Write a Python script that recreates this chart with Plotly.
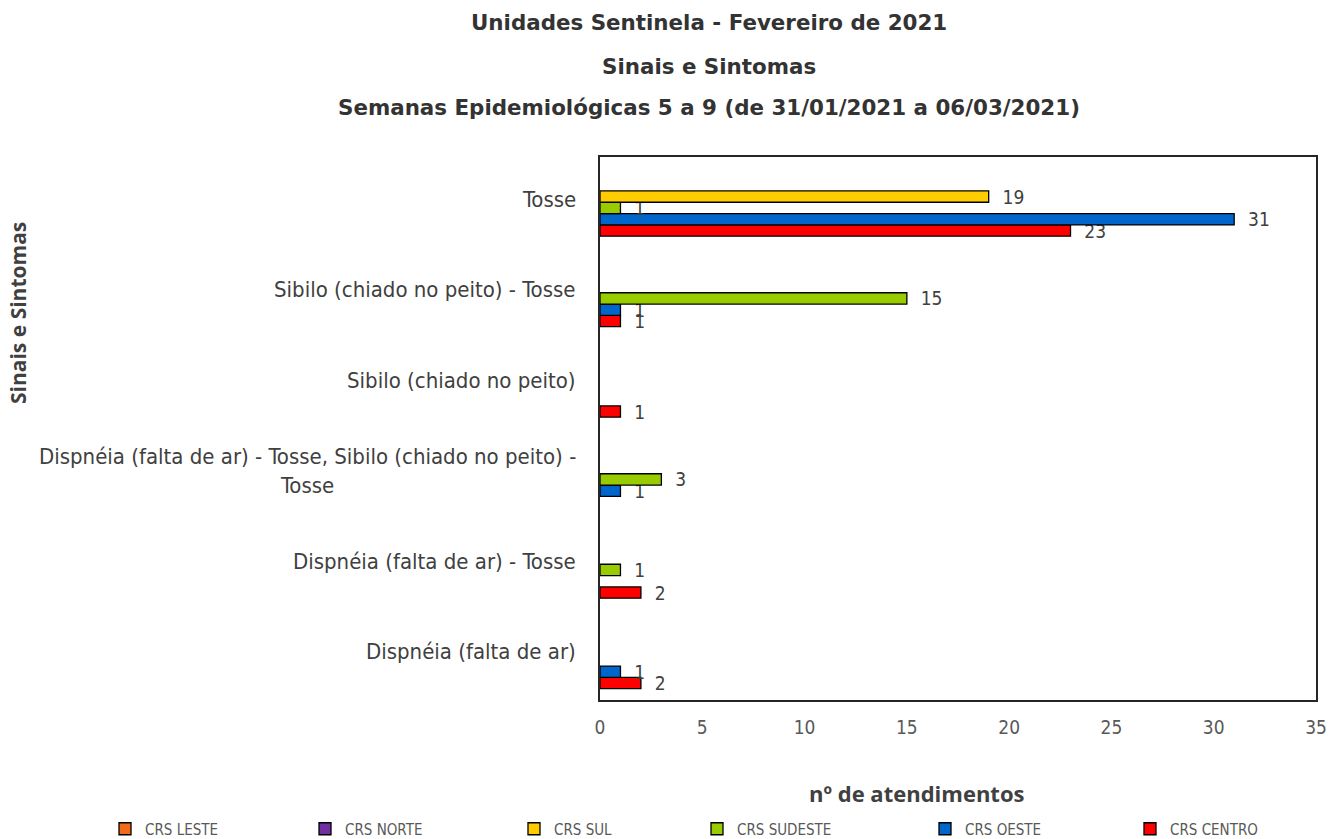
import plotly.graph_objects as go

categories = [
    "Dispnéia (falta de ar)",
    "Dispnéia (falta de ar) - Tosse",
    "Dispnéia (falta de ar) - Tosse, Sibilo (chiado no peito) -<br>Tosse",
    "Sibilo (chiado no peito)",
    "Sibilo (chiado no peito) - Tosse",
    "Tosse",
]
series_names = ["CRS LESTE", "CRS NORTE", "CRS SUL", "CRS SUDESTE", "CRS OESTE", "CRS CENTRO"]
crs_leste = [None, None, None, None, None, None]
crs_norte = [None, None, None, None, None, None]
crs_sul = [None, None, None, None, None, 19]
crs_sudeste = [None, 1, 3, None, 15, 1]
crs_oeste = [1, None, 1, None, 1, 31]
crs_centro = [2, 2, None, 1, 1, 23]
colors = ["#F26A1B", "#7030A0", "#FFCC00", "#99CC00", "#0066CC", "#FF0000"]
x_ticks = [0, 5, 10, 15, 20, 25, 30, 35]

values = [crs_leste, crs_norte, crs_sul, crs_sudeste, crs_oeste, crs_centro]
legend_marker_x = [119, 319, 528, 711, 939, 1144]

W, H = 1330, 839
L, R, T, B = 600, 14, 157, 139
PW, PH = W - L - R, H - T - B

LABEL_FONT = "DejaVu Sans Condensed"

fig = go.Figure()
# plotly places the first trace at the bottom of a horizontal group
for i in reversed(range(6)):
    v = values[i]
    fig.add_trace(go.Bar(
        y=categories, x=v, orientation="h", name=series_names[i],
        marker=dict(color=colors[i], line=dict(color="#000000", width=1.3)),
        text=["\u00a0\u00a0" + str(t) if t is not None else "" for t in v],
        textposition="outside", cliponaxis=False, constraintext="none",
        textfont=dict(size=19, color="#404040", family=LABEL_FONT),
        legend="legend" if i == 0 else f"legend{i+1}",
        showlegend=True,
    ))

legends = {}
for i in range(6):
    key = "legend" if i == 0 else f"legend{i+1}"
    legends[key] = dict(
        xref="container", yref="container",
        x=(legend_marker_x[i] - 14) / W, y=1 - 829 / H, xanchor="left", yanchor="middle",
        orientation="h", bgcolor="rgba(0,0,0,0)",
        font=dict(size=15, color="#595959", family=LABEL_FONT),
        itemwidth=30,
    )

annotations = []
titles = ["Unidades Sentinela - Fevereiro de 2021", "Sinais e Sintomas",
          "Semanas Epidemiológicas 5 a 9 (de 31/01/2021 a 06/03/2021)"]
title_y = [22, 67, 108]
for t, yy in zip(titles, title_y):
    annotations.append(dict(
        text=f"<b>{t}</b>", xref="paper", yref="paper",
        x=(709 - L) / PW, y=1 + (T - yy) / PH,
        xanchor="center", yanchor="middle", showarrow=False,
        font=dict(size=21.4, color="#333333", family="DejaVu Sans"),
    ))
for c in categories:
    annotations.append(dict(
        text=c, xref="paper", yref="y", x=-22 / PW, y=c,
        xanchor="right", yanchor="middle", align="center", showarrow=False,
        font=dict(size=22, color="#404040", family=LABEL_FONT),
        yshift=3,
    ))
annotations.append(dict(
    text="<b>nº de atendimentos</b>", xref="paper", yref="paper",
    x=(917 - L) / PW, y=-(793 - (H - B)) / PH,
    xanchor="center", yanchor="middle", showarrow=False,
    font=dict(size=22, color="#404040", family="Open Sans"),
))
annotations.append(dict(
    text="<b>Sinais e Sintomas</b>", xref="paper", yref="paper",
    x=-(L - 18) / PW, y=1 - (313 - T) / PH,
    xanchor="center", yanchor="middle", showarrow=False, textangle=-90,
    font=dict(size=21, color="#404040", family="Open Sans"),
))

fig.update_layout(
    width=W, height=H,
    margin=dict(l=L, r=R, t=T, b=B, autoexpand=False),
    paper_bgcolor="white", plot_bgcolor="white",
    showlegend=True,
    barmode="group", bargap=0.25, bargroupgap=0,
    xaxis=dict(range=[0, 35], tickvals=x_ticks, showgrid=False, zeroline=False,
               showline=True, linecolor="#262626", linewidth=2, mirror=True,
               ticks="", ticklabelstandoff=9, automargin=False,
               tickfont=dict(size=19, color="#595959", family=LABEL_FONT)),
    yaxis=dict(type="category", categoryorder="array", categoryarray=categories,
               showticklabels=False, showgrid=False, zeroline=False, automargin=False,
               showline=True, linecolor="#262626", linewidth=2, mirror=True, ticks=""),
    annotations=annotations,
    **legends,
)

fig.write_html("out.html", config={"displayModeBar": False},
               post_script="document.body.style.margin='0';document.body.style.overflow='hidden';")
